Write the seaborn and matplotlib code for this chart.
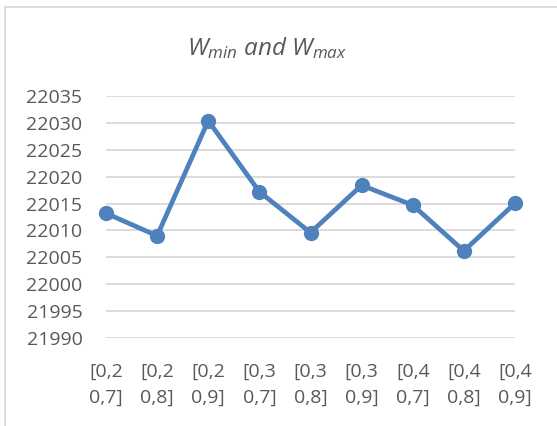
import numpy as np
import pandas as pd
import matplotlib
matplotlib.use("Agg")
import matplotlib.pyplot as plt
import matplotlib.patches as mpatches
import seaborn as sns

categories = ["[0,2\n0,7]", "[0,2\n0,8]", "[0,2\n0,9]", "[0,3\n0,7]", "[0,3\n0,8]",
              "[0,3\n0,9]", "[0,4\n0,7]", "[0,4\n0,8]", "[0,4\n0,9]"]
values = [22013.2, 22009.0, 22030.4, 22017.2, 22009.6, 22018.4, 22014.7, 22006.2, 22015.05]
yticks = [21990, 21995, 22000, 22005, 22010, 22015, 22020, 22025, 22030, 22035]
title = r"$W_{min}$ and $W_{max}$"

sns.set_theme(style="white")
plt.rcParams['font.family'] = ['Open Sans', 'DejaVu Sans']
plt.rcParams['mathtext.fontset'] = 'custom'
plt.rcParams['mathtext.it'] = 'Open Sans:italic'
plt.rcParams['mathtext.rm'] = 'Open Sans'

df = pd.DataFrame({"cat": categories, "val": values})

fig = plt.figure(figsize=(5.57, 4.26), dpi=100)
ax = fig.add_axes([106/557, 1-338/426, 409/557, 242/426])

sns.lineplot(data=df, x="cat", y="val", ax=ax, color="#4F81BD", linewidth=3.4,
             marker="o", markersize=11, markeredgewidth=0, clip_on=False, zorder=3)

ax.set_ylim(21990, 22035)
ax.set_xlim(0, len(categories) - 1)
ax.set_yticks(yticks)
ax.set_yticklabels([str(v) for v in yticks])
ax.set_xticks(range(len(categories)))
ax.set_xticklabels(categories, linespacing=1.55)
ax.grid(axis="y", color="#D9D9D9", linewidth=1.3)
ax.grid(axis="x", visible=False)
for s in ax.spines.values():
    s.set_visible(False)
ax.tick_params(axis="y", colors="#595959", labelsize=14, pad=17, length=0)
ax.tick_params(axis="x", colors="#595959", labelsize=14, pad=18, length=0)
ax.set_xlabel("")
ax.set_ylabel("")

fig.text(267/557, 1-55/426, title, ha="center", va="baseline", fontsize=17.5,
         color="#595959", style="italic")

fig.patches.append(mpatches.Rectangle((5/557, -0.1), 1.0, 1.1 - 7/426, transform=fig.transFigure,
                                      fill=False, edgecolor="#D9D9D9", linewidth=1.3))

fig.savefig("out.png", dpi=100)
